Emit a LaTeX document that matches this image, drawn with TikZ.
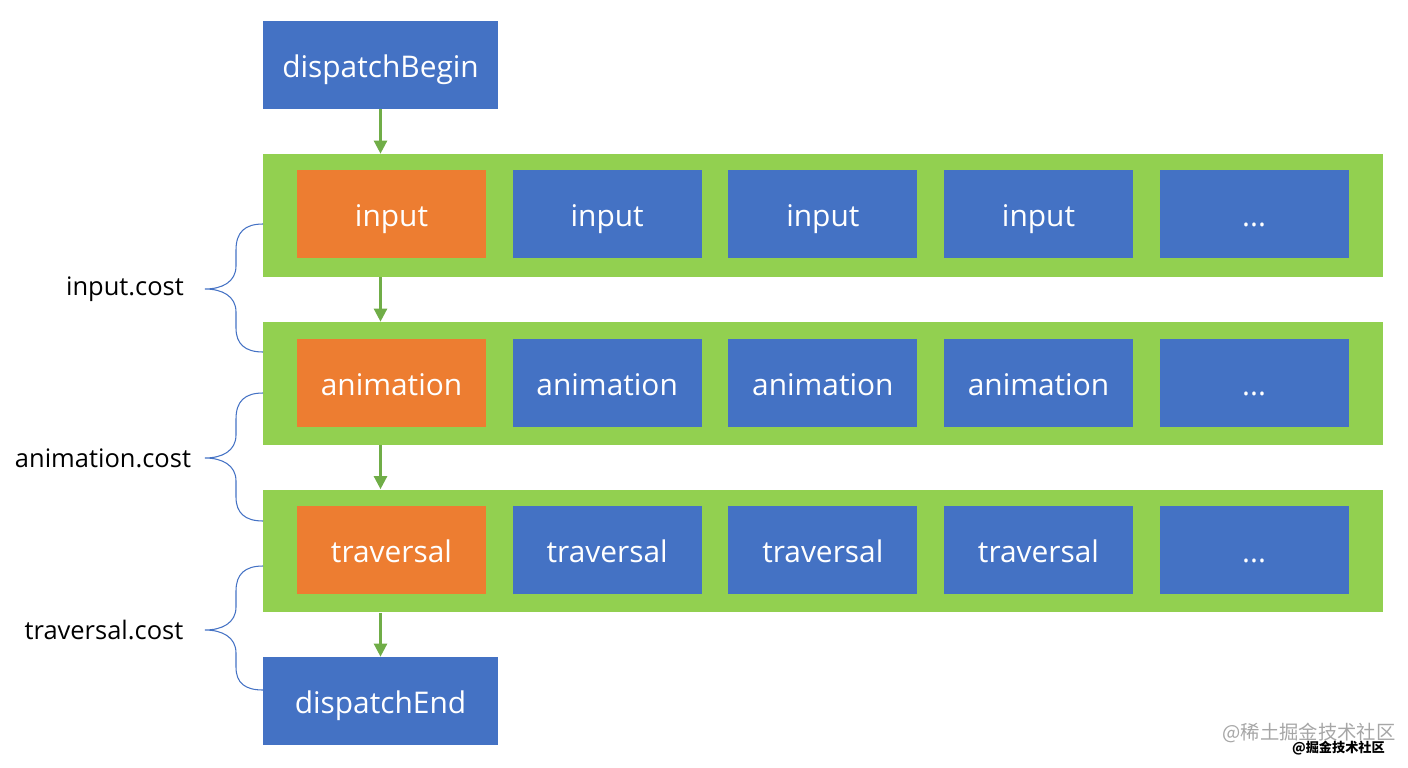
\documentclass[tikz,border=0pt]{standalone}
\usepackage{fontspec}
\setmainfont{Open Sans}
\newfontfamily\cjk{Noto Sans CJK SC}
\usetikzlibrary{arrows.meta,positioning}
\definecolor{boxblue}{HTML}{4472C4}
\definecolor{boxorange}{HTML}{ED7D31}
\definecolor{bandgreen}{HTML}{92D050}
\definecolor{arrowgreen}{HTML}{70AD47}

\begin{document}
\begin{tikzpicture}[x=0.02cm, y=-0.02cm, node distance=0.52cm, >={Triangle[length=0.26cm, width=0.26cm]},
  stage/.style={fill=boxblue, minimum width=3.78cm, minimum height=1.76cm, inner sep=0pt, text=white,
    text height=15pt, text depth=1pt, font=\fontsize{17}{20}\selectfont},
  first/.style={stage, fill=boxorange},
  endpoint/.style={stage, minimum width=4.7cm},
  band/.style={fill=bandgreen, minimum width=22.4cm, minimum height=2.46cm, inner sep=0pt},
  flow/.style={->, draw=arrowgreen, line width=1.4pt},
  brace/.style={draw=boxblue, line width=0.6pt},
  cost/.style={font=\fontsize{14.5}{17}\selectfont}]
  \useasboundingbox (0,0) rectangle (1408,767);

  \node[endpoint] (begin) at (380.5,65) {dispatchBegin};

  \node[band] (inband) at (823,215.5) {};
  \node[first] (input1) at (391.5,214) {input};
  \node[stage, right=of input1] (input2) {input};
  \node[stage, right=of input2] (input3) {input};
  \node[stage, right=of input3] (input4) {input};
  \node[stage, right=of input4] (input5) {...};

  \node[band] (aniband) at (823,383.5) {};
  \node[first] (ani1) at (391.5,383) {animation};
  \node[stage, right=of ani1] (ani2) {animation};
  \node[stage, right=of ani2] (ani3) {animation};
  \node[stage, right=of ani3] (ani4) {animation};
  \node[stage, right=of ani4] (ani5) {...};

  \node[band] (travband) at (823,551) {};
  \node[first] (trav1) at (391.5,550) {traversal};
  \node[stage, right=of trav1] (trav2) {traversal};
  \node[stage, right=of trav2] (trav3) {traversal};
  \node[stage, right=of trav3] (trav4) {traversal};
  \node[stage, right=of trav4] (trav5) {...};

  \node[endpoint] (end) at (380.5,701) {dispatchEnd};

  \draw[flow] (begin.south) -- (begin.south |- inband.north);
  \draw[flow] (begin.south |- inband.south) -- (begin.south |- aniband.north);
  \draw[flow] (begin.south |- aniband.south) -- (begin.south |- travband.north);
  \draw[flow] (begin.south |- travband.south) -- (end.north);

  % cost braces
  \node[cost] (incost) at (125,289) {input.cost};
  \node[cost] (anicost) at (103,458) {animation.cost};
  \node[cost] (travcost) at (104,630) {traversal.cost};
  \draw[brace] (263,224) .. controls (245,224) and (236,232) .. (236,250) -- (236,266)
    .. controls (236,282) and (222,289) .. (205,289) .. controls (222,289) and (236,296) .. (236,312)
    -- (236,328) .. controls (236,344) and (245,352) .. (263,352);
  \draw[brace, shift={(0,169)}] (263,224) .. controls (245,224) and (236,232) .. (236,250) -- (236,266)
    .. controls (236,282) and (222,289) .. (205,289) .. controls (222,289) and (236,296) .. (236,312)
    -- (236,328) .. controls (236,344) and (245,352) .. (263,352);
  \draw[brace, shift={(0,341)}] (263,225) .. controls (245,225) and (236,233) .. (236,250) -- (236,266)
    .. controls (236,282) and (222,289) .. (205,289) .. controls (222,289) and (236,296) .. (236,312)
    -- (236,326) .. controls (236,342) and (245,349) .. (263,349);

  % watermark
  \node[text=black!35, font=\cjk\fontsize{11}{13}\selectfont] (mark) at (1309,733) {@稀土掘金技术社区};
  \node[font=\cjk\bfseries\fontsize{7.5}{9}\selectfont, anchor=east] (mark2) at (1391,748) {@掘金技术社区};
\end{tikzpicture}
\end{document}
